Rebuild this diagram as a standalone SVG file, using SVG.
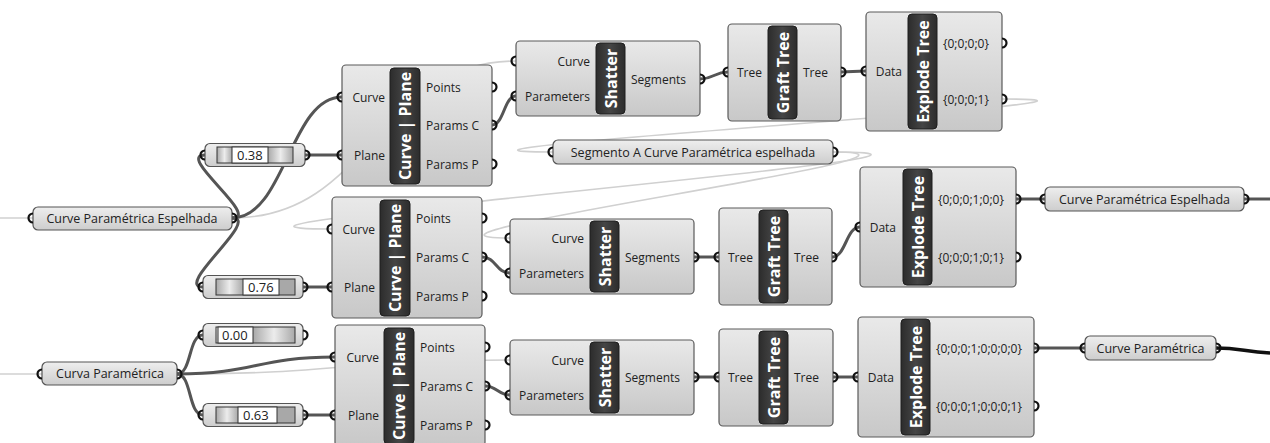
<svg xmlns="http://www.w3.org/2000/svg" xmlns:xlink="http://www.w3.org/1999/xlink" width="1270" height="443" viewBox="0 0 1270 443">
<defs>
<linearGradient id="gBox" x1="0" y1="0" x2="0" y2="1"><stop offset="0" stop-color="#e9e9e9"/><stop offset="1" stop-color="#c8c8c8"/></linearGradient>
<linearGradient id="gPnl" x1="0" y1="0" x2="0" y2="1"><stop offset="0" stop-color="#eeeeee"/><stop offset="1" stop-color="#cdcdcd"/></linearGradient>
<linearGradient id="gBand" x1="0" y1="0" x2="1" y2="0"><stop offset="0" stop-color="#2c2c2c"/><stop offset="0.5" stop-color="#454545"/><stop offset="1" stop-color="#2c2c2c"/></linearGradient>
<linearGradient id="gTrk" x1="0" y1="0" x2="1" y2="0"><stop offset="0" stop-color="#a9a9a9"/><stop offset="0.5" stop-color="#ececec"/><stop offset="1" stop-color="#a9a9a9"/></linearGradient>
<path id="gi" d="M0,-4.5 A4.5,4.5 0 0 0 0,4.5"/>
<path id="go" d="M0,-4.5 A4.5,4.5 0 0 1 0,4.5"/>
<style>
.box{fill:url(#gBox);stroke:#5a5a5a;stroke-width:1.2}
.pnl{fill:url(#gPnl);stroke:#555;stroke-width:1.2}
.band{fill:url(#gBand);stroke:#1e1e1e;stroke-width:1}
.bt{font-family:"Open Sans","Noto Sans",sans-serif;font-weight:bold;font-size:16px;fill:#fff;text-anchor:middle;dominant-baseline:central}
.l{font-family:"Open Sans","Noto Sans",sans-serif;font-size:12px;fill:#222;dominant-baseline:central}
.p{font-family:"Open Sans","Noto Sans",sans-serif;font-size:12.5px;fill:#222;dominant-baseline:central;text-anchor:middle}
.v{font-family:"Open Sans","Noto Sans",sans-serif;font-size:13px;fill:#222;dominant-baseline:central}
.r{text-anchor:end}
use{fill:none;stroke:#111;stroke-width:2.2}
.trk{fill:url(#gTrk)}
.frm{fill:none;stroke:#333;stroke-width:1}
.wb{fill:#fff;stroke:#333;stroke-width:1}
.w{fill:none;stroke:#555;stroke-width:3}
.lw{fill:none;stroke:#d0d0d0;stroke-width:1.6}
</style>
</defs>
<rect width="1270" height="443" fill="#ffffff"/>
<g id="connectors">
<path class="lw" d="M0,218 L33,218"/>
<path class="lw" d="M0,374 L42,374"/>
<path class="lw" d="M232,218 C372,218 376,61 516,61"/>
<path class="lw" d="M1002,99 C1222,99 333,152 553,152"/>
<path class="lw" d="M833,152 C1073,152 92,229 332,229"/>
<path class="lw" d="M833,152 C993,152 350,238 510,238"/>
<path class="lw" d="M177,374 C343,374 343,360 510,360"/>
<path class="w" d="M232,218 C285,218 290,97 342,97"/>
<path class="w" d="M232,218 C262,218 175,155 205,155"/>
<path class="w" d="M232,218 C262,218 173,287 203,287"/>
<path class="w" d="M305,155 L342,155"/>
<path class="w" d="M303,287 L332,287"/>
<path class="w" d="M492,125 C504,125 504,96 516,96"/>
<path class="w" d="M700,79 C714,79 714,72 728,72"/>
<path class="w" d="M841,72 C853,72 853,71 866,71"/>
<path class="w" d="M482,257 C496,257 496,273 510,273"/>
<path class="w" d="M694,257 L719,257"/>
<path class="w" d="M832,257 C846,257 846,227 860,227"/>
<path class="w" d="M1016,199 L1045,199"/>
<path class="w" d="M1244,199 L1270,199"/>
<path class="w" d="M177,374 C256,374 256,357 335,357"/>
<path class="w" d="M177,374 C192,374 188,335 203,335"/>
<path class="w" d="M177,374 C192,374 188,415 203,415"/>
<path class="w" d="M303,415 L335,415"/>
<path class="w" d="M485,386 C497,386 498,395 510,395"/>
<path class="w" d="M694,377 L719,377"/>
<path class="w" d="M833,377 L858,377"/>
<path class="w" d="M1034,348 L1085,348"/>
<path d="M1216,348 C1240,348 1245,352 1270,353" fill="none" stroke="#111" stroke-width="3.5"/>
</g>

<g id="panel-curve-espelhada-in">
<rect class="pnl" x="33" y="207" width="199" height="23" rx="5"/>
<text class="p" x="132" y="218.5">Curve Paramétrica Espelhada</text>
<use href="#gi" x="33" y="218"/><use href="#go" x="232" y="218"/>
</g>
<g id="panel-curva-parametrica">
<rect class="pnl" x="42" y="362" width="135" height="23" rx="5"/>
<text class="p" x="110" y="373.5">Curva Paramétrica</text>
<use href="#gi" x="42" y="374"/><use href="#go" x="177" y="374"/>
</g>
<g id="panel-segmento">
<rect class="pnl" x="553" y="140" width="280" height="24" rx="5"/>
<text class="p" x="693" y="152">Segmento A Curve Paramétrica espelhada</text>
<use href="#gi" x="553" y="152"/><use href="#go" x="833" y="152"/>
</g>
<g id="panel-curve-espelhada-out">
<rect class="pnl" x="1045" y="187" width="199" height="24" rx="5"/>
<text class="p" x="1144.5" y="199">Curve Paramétrica Espelhada</text>
<use href="#gi" x="1045" y="199"/><use href="#go" x="1244" y="199"/>
</g>
<g id="panel-curve-parametrica-out">
<rect class="pnl" x="1085" y="336" width="131" height="24" rx="5"/>
<text class="p" x="1150.5" y="348">Curve Paramétrica</text>
<use href="#gi" x="1085" y="348"/><use href="#go" x="1216" y="348"/>
</g>

<g id="slider-038">
<rect class="pnl" x="205" y="143.5" width="100" height="23" rx="5"/>
<rect class="trk" x="217" y="147" width="15" height="16"/><rect class="trk" x="268" y="147" width="25" height="16"/>
<rect class="frm" x="217" y="147" width="76" height="16"/>
<rect class="wb" x="232" y="147" width="36" height="16"/>
<text class="v" x="237" y="155">0.38</text>
<use href="#gi" x="205" y="155"/><use href="#go" x="305" y="155"/>
</g>
<g id="slider-076">
<rect class="pnl" x="203" y="275.5" width="100" height="23" rx="5"/>
<rect class="trk" x="216" y="279" width="27" height="16"/><rect x="279" y="279" width="16" height="16" fill="#a8a8a8"/>
<rect class="frm" x="216" y="279" width="79" height="16"/>
<rect class="wb" x="243" y="279" width="36" height="16"/>
<text class="v" x="248" y="287">0.76</text>
<use href="#gi" x="203" y="287"/><use href="#go" x="303" y="287"/>
</g>
<g id="slider-000">
<rect class="pnl" x="203" y="323.5" width="100" height="23" rx="5"/>
<rect class="trk" x="253" y="327" width="42" height="16"/>
<rect class="frm" x="216" y="327" width="79" height="16"/>
<rect class="wb" x="218" y="327" width="35" height="16"/>
<text class="v" x="222" y="335">0.00</text>
<use href="#gi" x="203" y="335"/><use href="#go" x="303" y="335"/>
</g>
<g id="slider-063">
<rect class="pnl" x="203" y="403.5" width="100" height="23" rx="5"/>
<rect class="trk" x="216" y="407" width="22" height="16"/><rect x="277" y="407" width="18" height="16" fill="#a8a8a8"/>
<rect class="frm" x="216" y="407" width="79" height="16"/>
<rect class="wb" x="238" y="407" width="39" height="16"/>
<text class="v" x="243" y="415">0.63</text>
<use href="#gi" x="203" y="415"/><use href="#go" x="303" y="415"/>
</g>

<g id="curve-plane-a">
<rect class="box" x="342" y="65" width="150" height="121" rx="4"/>
<rect class="band" x="390" y="68" width="30" height="116" rx="4"/>
<text class="bt" transform="translate(405,126) rotate(-90)">Curve | Plane</text>
<text class="l r" x="385" y="97">Curve</text><text class="l r" x="385" y="155">Plane</text>
<text class="l" x="426" y="87">Points</text><text class="l" x="426" y="125">Params C</text><text class="l" x="426" y="164">Params P</text>
<use href="#gi" x="342" y="97"/><use href="#gi" x="342" y="155"/>
<use href="#go" x="492" y="87"/><use href="#go" x="492" y="125"/><use href="#go" x="492" y="164"/>
</g>
<g id="curve-plane-b">
<rect class="box" x="332" y="197" width="150" height="121" rx="4"/>
<rect class="band" x="380" y="200" width="30" height="116" rx="4"/>
<text class="bt" transform="translate(395,258) rotate(-90)">Curve | Plane</text>
<text class="l r" x="375" y="229">Curve</text><text class="l r" x="375" y="287">Plane</text>
<text class="l" x="416" y="218">Points</text><text class="l" x="416" y="257">Params C</text><text class="l" x="416" y="296">Params P</text>
<use href="#gi" x="332" y="229"/><use href="#gi" x="332" y="287"/>
<use href="#go" x="482" y="218"/><use href="#go" x="482" y="257"/><use href="#go" x="482" y="296"/>
</g>
<g id="curve-plane-c">
<rect class="box" x="335" y="325" width="150" height="121" rx="4"/>
<rect class="band" x="384" y="328" width="30" height="116" rx="4"/>
<text class="bt" transform="translate(399,386) rotate(-90)">Curve | Plane</text>
<text class="l r" x="379" y="357">Curve</text><text class="l r" x="379" y="415">Plane</text>
<text class="l" x="420" y="347">Points</text><text class="l" x="420" y="386">Params C</text><text class="l" x="420" y="425">Params P</text>
<use href="#gi" x="335" y="357"/><use href="#gi" x="335" y="415"/>
<use href="#go" x="485" y="347"/><use href="#go" x="485" y="386"/><use href="#go" x="485" y="425"/>
</g>

<g id="shatter-a">
<rect class="box" x="516" y="41" width="184" height="75" rx="4"/>
<rect class="band" x="596" y="43" width="29" height="71" rx="4"/>
<text class="bt" transform="translate(610.5,78.5) rotate(-90)">Shatter</text>
<text class="l r" x="590" y="61">Curve</text><text class="l r" x="590" y="96">Parameters</text>
<text class="l" x="631" y="79">Segments</text>
<use href="#gi" x="516" y="61"/><use href="#gi" x="516" y="96"/><use href="#go" x="700" y="79"/>
</g>
<g id="shatter-b">
<rect class="box" x="510" y="219" width="184" height="75" rx="4"/>
<rect class="band" x="590" y="221" width="29" height="71" rx="4"/>
<text class="bt" transform="translate(604.5,256.5) rotate(-90)">Shatter</text>
<text class="l r" x="584" y="238">Curve</text><text class="l r" x="584" y="273">Parameters</text>
<text class="l" x="625" y="257">Segments</text>
<use href="#gi" x="510" y="238"/><use href="#gi" x="510" y="273"/><use href="#go" x="694" y="257"/>
</g>
<g id="shatter-c">
<rect class="box" x="510" y="340" width="184" height="75" rx="4"/>
<rect class="band" x="590" y="342" width="29" height="71" rx="4"/>
<text class="bt" transform="translate(604.5,377.5) rotate(-90)">Shatter</text>
<text class="l r" x="584" y="360">Curve</text><text class="l r" x="584" y="395">Parameters</text>
<text class="l" x="625" y="377">Segments</text>
<use href="#gi" x="510" y="360"/><use href="#gi" x="510" y="395"/><use href="#go" x="694" y="377"/>
</g>

<g id="graft-tree-a">
<rect class="box" x="728" y="24" width="113" height="97" rx="4"/>
<rect class="band" x="768" y="26" width="29" height="93" rx="4"/>
<text class="bt" transform="translate(782.5,72.5) rotate(-90)">Graft Tree</text>
<text class="l r" x="762" y="72">Tree</text><text class="l" x="803" y="72">Tree</text>
<use href="#gi" x="728" y="72"/><use href="#go" x="841" y="72"/>
</g>
<g id="graft-tree-b">
<rect class="box" x="719" y="208" width="113" height="97" rx="4"/>
<rect class="band" x="759" y="210" width="29" height="93" rx="4"/>
<text class="bt" transform="translate(773.5,256.5) rotate(-90)">Graft Tree</text>
<text class="l r" x="753" y="257">Tree</text><text class="l" x="794" y="257">Tree</text>
<use href="#gi" x="719" y="257"/><use href="#go" x="832" y="257"/>
</g>
<g id="graft-tree-c">
<rect class="box" x="719" y="329" width="114" height="97" rx="4"/>
<rect class="band" x="759" y="331" width="29" height="93" rx="4"/>
<text class="bt" transform="translate(773.5,377.5) rotate(-90)">Graft Tree</text>
<text class="l r" x="753" y="377">Tree</text><text class="l" x="794" y="377">Tree</text>
<use href="#gi" x="719" y="377"/><use href="#go" x="833" y="377"/>
</g>

<g id="explode-tree-a">
<rect class="box" x="866" y="12" width="136" height="119" rx="4"/>
<rect class="band" x="908" y="14" width="29" height="115" rx="4"/>
<text class="bt" transform="translate(922.5,71.5) rotate(-90)">Explode Tree</text>
<text class="l r" x="902" y="71">Data</text>
<text class="l" x="943" y="43">{0;0;0;0}</text><text class="l" x="943" y="99">{0;0;0;1}</text>
<use href="#gi" x="866" y="71"/><use href="#go" x="1002" y="43"/><use href="#go" x="1002" y="99"/>
</g>
<g id="explode-tree-b">
<rect class="box" x="860" y="167" width="156" height="120" rx="4"/>
<rect class="band" x="903" y="169" width="29" height="116" rx="4"/>
<text class="bt" transform="translate(917.5,227) rotate(-90)">Explode Tree</text>
<text class="l r" x="896" y="227">Data</text>
<text class="l" x="938" y="199">{0;0;0;1;0;0}</text><text class="l" x="938" y="257">{0;0;0;1;0;1}</text>
<use href="#gi" x="860" y="227"/><use href="#go" x="1016" y="199"/><use href="#go" x="1016" y="257"/>
</g>
<g id="explode-tree-c">
<rect class="box" x="858" y="317" width="176" height="120" rx="4"/>
<rect class="band" x="901" y="319" width="29" height="116" rx="4"/>
<text class="bt" transform="translate(915.5,377) rotate(-90)">Explode Tree</text>
<text class="l r" x="894" y="377">Data</text>
<text class="l" x="936" y="348">{0;0;0;1;0;0;0;0}</text><text class="l" x="936" y="406">{0;0;0;1;0;0;0;1}</text>
<use href="#gi" x="858" y="377"/><use href="#go" x="1034" y="348"/><use href="#go" x="1034" y="406"/>
</g>
</svg>
